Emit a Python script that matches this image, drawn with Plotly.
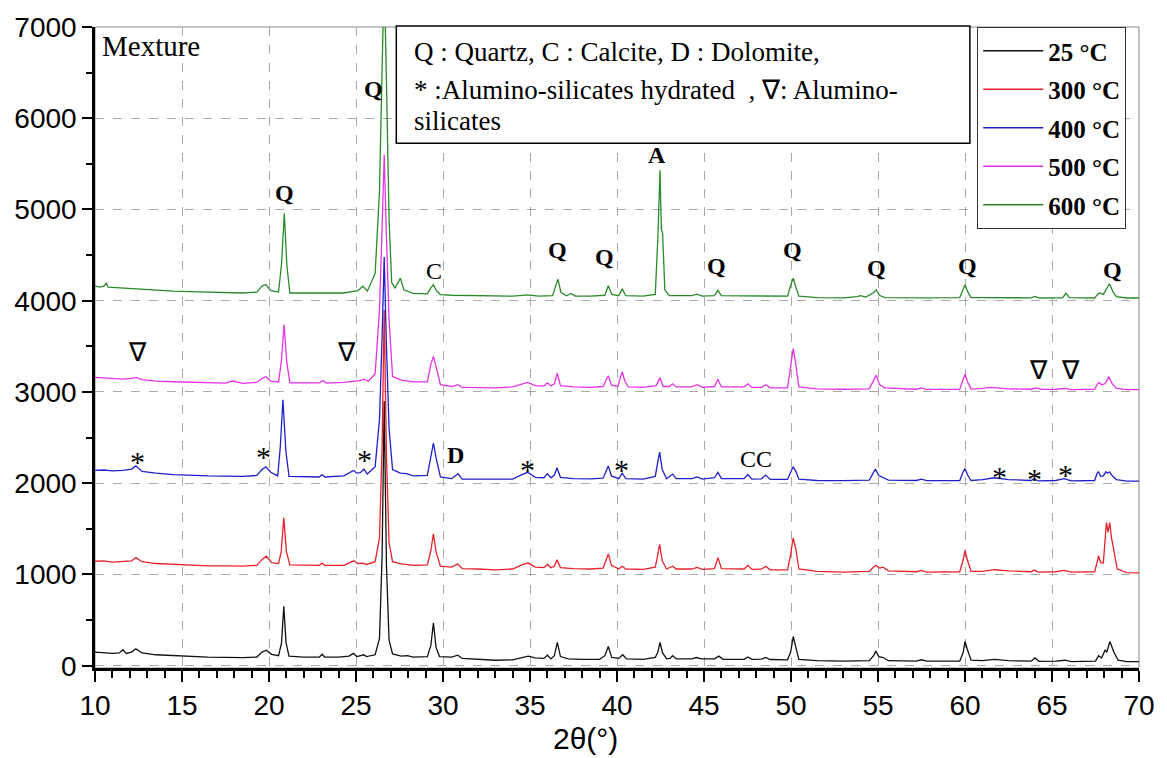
import plotly.graph_objects as go

# ---------------- data ----------------
series_names = ["25 °C", "300 °C", "400 °C", "500 °C", "600 °C"]
series_colors = ["#111111", "#e8222a", "#2020c8", "#e632e6", "#2a8a2a"]

pattern_25 = [(10.0,150),(10.5,140),(11.0,135),(11.4,140),(11.6,175),(11.8,135),(12.1,150),(12.35,185),(12.7,140),(13.5,120),(14.5,110),(15.5,100),(16.5,95),(17.5,92),(18.5,88),(19.3,95),(19.6,150),(19.85,170),(20.15,125),(20.55,110),(20.72,250),(20.85,650),(20.98,250),(21.15,105),(22.0,95),(22.9,95),(23.05,125),(23.2,95),(24.0,95),(24.6,105),(24.85,135),(25.05,100),(25.3,110),(25.45,120),(25.6,100),(26.1,120),(26.35,300),(26.5,1200),(26.62,2900),(26.75,1100),(26.9,280),(27.1,130),(27.6,105),(27.95,110),(28.3,95),(29.1,100),(29.3,220),(29.45,470),(29.6,200),(29.8,100),(30.5,95),(30.85,115),(31.1,80),(32.0,70),(33.0,60),(34.0,65),(34.6,95),(34.9,105),(35.3,85),(35.8,80),(36.0,115),(36.2,75),(36.4,110),(36.57,255),(36.75,100),(37.2,75),(38.0,70),(39.0,70),(39.3,110),(39.5,210),(39.7,90),(40.1,80),(40.33,120),(40.55,75),(41.5,70),(42.2,90),(42.35,150),(42.47,255),(42.62,140),(42.85,75),(43.05,80),(43.2,110),(43.4,75),(44.3,75),(44.57,90),(44.85,75),(45.6,75),(45.85,105),(46.1,70),(47.3,70),(47.52,95),(47.75,70),(48.3,72),(48.55,90),(48.8,68),(49.8,65),(49.98,150),(50.13,320),(50.28,200),(50.45,70),(51.5,55),(53.0,50),(54.5,55),(54.75,110),(54.87,160),(55.05,100),(55.3,90),(55.6,55),(57.2,50),(57.5,65),(57.8,50),(59.7,50),(59.9,150),(60.0,265),(60.15,170),(60.35,60),(61.0,55),(61.7,70),(62.5,55),(63.8,50),(64.02,85),(64.25,48),(65.2,50),(65.75,60),(66.1,45),(67.5,50),(67.68,110),(67.85,85),(68.05,170),(68.15,150),(68.33,265),(68.55,150),(68.8,60),(69.3,45),(70.0,45)]

pattern_300 = [(10.0,1145),(10.5,1150),(11.0,1135),(11.6,1140),(12.1,1150),(12.35,1185),(12.7,1140),(13.5,1120),(14.5,1110),(15.5,1100),(16.5,1095),(17.5,1095),(18.5,1092),(19.3,1100),(19.6,1165),(19.85,1200),(20.15,1130),(20.55,1120),(20.7,1250),(20.85,1620),(21.0,1250),(21.2,1105),(22.0,1100),(22.9,1100),(23.05,1125),(23.2,1100),(24.3,1100),(24.7,1130),(24.88,1150),(25.1,1120),(25.4,1125),(25.6,1110),(26.1,1140),(26.35,1400),(26.5,2400),(26.62,3900),(26.75,2300),(26.9,1350),(27.1,1140),(27.6,1115),(28.3,1100),(29.1,1105),(29.3,1260),(29.45,1445),(29.6,1250),(29.85,1090),(30.5,1080),(30.85,1115),(31.1,1065),(32.0,1060),(33.0,1050),(34.0,1060),(34.6,1110),(34.9,1125),(35.3,1080),(35.8,1075),(36.0,1110),(36.2,1075),(36.4,1090),(36.55,1160),(36.75,1075),(37.5,1065),(38.5,1060),(39.2,1070),(39.35,1140),(39.5,1225),(39.68,1100),(40.1,1060),(40.3,1090),(40.5,1060),(41.5,1055),(42.2,1080),(42.33,1200),(42.45,1330),(42.6,1150),(42.85,1060),(43.2,1090),(43.4,1060),(44.3,1060),(44.6,1078),(44.9,1055),(45.6,1065),(45.8,1185),(46.0,1065),(47.3,1060),(47.52,1100),(47.75,1055),(48.3,1058),(48.55,1090),(48.8,1052),(49.8,1050),(49.98,1220),(50.12,1400),(50.28,1280),(50.45,1060),(51.5,1035),(53.0,1025),(54.5,1035),(54.85,1100),(55.1,1070),(55.3,1080),(55.6,1040),(57.2,1030),(57.5,1045),(57.8,1025),(59.7,1030),(59.88,1150),(60.0,1260),(60.15,1150),(60.35,1035),(61.0,1035),(61.7,1052),(62.5,1040),(63.8,1030),(63.97,1048),(64.2,1025),(65.2,1030),(65.7,1045),(66.1,1025),(67.45,1030),(67.6,1140),(67.67,1205),(67.8,1130),(67.95,1125),(68.08,1450),(68.13,1570),(68.22,1460),(68.32,1570),(68.42,1400),(68.56,1250),(68.75,1060),(69.3,1020),(70.0,1018)]

pattern_400 = [(10.0,2140),(10.5,2145),(11.0,2135),(11.6,2140),(12.1,2155),(12.35,2190),(12.7,2130),(13.5,2110),(14.5,2095),(15.5,2085),(16.5,2080),(17.5,2078),(18.5,2075),(19.3,2085),(19.6,2150),(19.82,2180),(20.1,2120),(20.5,2080),(20.65,2400),(20.8,2915),(20.97,2350),(21.15,2075),(22.0,2070),(22.9,2068),(23.05,2095),(23.2,2068),(24.3,2080),(24.7,2125),(24.86,2140),(25.05,2110),(25.25,2115),(25.45,2155),(25.65,2100),(26.1,2180),(26.35,2700),(26.5,3600),(26.62,4480),(26.75,3500),(26.9,2600),(27.1,2150),(27.55,2110),(27.9,2105),(28.3,2080),(29.1,2085),(29.3,2300),(29.45,2440),(29.6,2280),(29.85,2070),(30.5,2050),(30.86,2105),(31.1,2045),(32.0,2045),(33.0,2040),(34.0,2045),(34.6,2100),(34.86,2120),(35.3,2065),(35.8,2060),(36.0,2105),(36.2,2060),(36.4,2090),(36.55,2170),(36.75,2065),(37.5,2050),(38.5,2048),(39.2,2055),(39.35,2120),(39.5,2190),(39.68,2080),(40.1,2050),(40.3,2110),(40.5,2050),(41.5,2045),(42.2,2075),(42.33,2220),(42.45,2340),(42.6,2150),(42.85,2050),(43.2,2100),(43.4,2050),(44.3,2050),(44.6,2070),(44.9,2045),(45.6,2060),(45.8,2120),(46.0,2050),(47.3,2050),(47.52,2095),(47.75,2045),(48.3,2048),(48.55,2090),(48.8,2042),(49.8,2042),(49.98,2120),(50.12,2180),(50.28,2130),(50.45,2045),(51.5,2030),(53.0,2028),(54.5,2035),(54.7,2100),(54.85,2155),(55.05,2085),(55.3,2060),(55.6,2035),(57.2,2030),(57.5,2045),(57.8,2028),(59.7,2030),(59.88,2120),(60.0,2160),(60.15,2090),(60.35,2030),(61.0,2040),(61.7,2060),(62.5,2040),(63.8,2030),(63.97,2050),(64.2,2025),(65.2,2030),(65.7,2050),(66.1,2025),(67.45,2030),(67.6,2110),(67.67,2125),(67.8,2075),(67.95,2080),(68.1,2125),(68.2,2110),(68.3,2125),(68.45,2085),(68.7,2040),(69.3,2022),(70.0,2022)]

pattern_500 = [(10.0,3160),(10.5,3155),(11.0,3145),(11.6,3140),(12.1,3150),(12.35,3160),(12.7,3135),(13.5,3120),(14.5,3112),(15.5,3105),(16.5,3100),(17.5,3098),(17.9,3120),(18.5,3095),(19.3,3105),(19.6,3150),(19.82,3168),(20.1,3120),(20.55,3110),(20.72,3350),(20.87,3740),(21.02,3330),(21.2,3100),(22.0,3100),(22.9,3100),(23.1,3125),(23.3,3098),(24.3,3105),(25.2,3125),(25.45,3140),(25.7,3115),(26.1,3200),(26.35,3900),(26.5,4800),(26.62,5600),(26.75,4700),(26.9,3800),(27.1,3170),(27.6,3130),(28.3,3110),(29.1,3110),(29.3,3300),(29.45,3390),(29.6,3280),(29.85,3080),(30.5,3060),(30.86,3080),(31.1,3050),(32.0,3050),(33.0,3045),(34.0,3055),(34.6,3095),(34.86,3105),(35.3,3070),(35.8,3065),(36.0,3100),(36.2,3065),(36.4,3090),(36.57,3205),(36.75,3070),(37.5,3055),(38.5,3050),(39.2,3060),(39.35,3120),(39.5,3177),(39.68,3075),(40.05,3060),(40.18,3150),(40.3,3220),(40.45,3120),(40.65,3055),(41.5,3050),(42.25,3070),(42.47,3155),(42.65,3060),(43.0,3060),(43.2,3090),(43.4,3055),(44.3,3055),(44.6,3080),(44.9,3050),(45.6,3060),(45.8,3140),(46.0,3055),(47.3,3055),(47.52,3090),(47.75,3050),(48.3,3050),(48.57,3080),(48.8,3045),(49.8,3045),(49.98,3280),(50.13,3475),(50.28,3300),(50.45,3055),(51.5,3035),(53.0,3030),(54.5,3035),(54.72,3120),(54.9,3185),(55.08,3080),(55.4,3045),(57.2,3030),(57.5,3045),(57.8,3028),(59.7,3030),(59.88,3130),(60.0,3195),(60.15,3110),(60.35,3032),(61.0,3040),(61.5,3050),(62.5,3035),(63.8,3030),(64.1,3045),(64.4,3028),(65.2,3030),(65.75,3040),(66.1,3025),(67.45,3030),(67.62,3090),(67.7,3105),(67.85,3080),(68.05,3090),(68.26,3168),(68.45,3095),(68.7,3040),(69.3,3025),(70.0,3025)]

pattern_600 = [(10.0,4160),(10.3,4150),(10.55,4165),(10.65,4195),(10.75,4150),(11.5,4140),(12.5,4130),(13.5,4115),(14.5,4105),(15.5,4100),(16.5,4095),(17.5,4090),(18.5,4085),(19.3,4095),(19.6,4160),(19.82,4178),(20.1,4110),(20.55,4095),(20.72,4400),(20.88,4956),(21.03,4380),(21.2,4085),(22.0,4085),(23.0,4082),(24.3,4085),(25.1,4110),(25.4,4160),(25.65,4105),(26.1,4300),(26.35,5200),(26.5,6600),(26.62,7600),(26.75,6400),(26.9,4900),(27.05,4200),(27.25,4140),(27.55,4248),(27.75,4120),(28.3,4080),(29.1,4075),(29.3,4140),(29.45,4175),(29.62,4110),(29.85,4068),(30.5,4060),(31.5,4055),(33.0,4050),(34.0,4050),(34.86,4065),(35.5,4050),(36.3,4055),(36.45,4150),(36.6,4237),(36.78,4090),(37.1,4055),(37.35,4080),(37.6,4050),(38.5,4050),(39.3,4060),(39.5,4165),(39.7,4070),(40.1,4055),(40.3,4130),(40.5,4055),(41.5,4050),(42.2,4070),(42.35,4700),(42.47,5430),(42.55,4780),(42.62,4740),(42.75,4120),(43.0,4055),(44.3,4055),(44.6,4072),(44.9,4050),(45.6,4055),(45.8,4114),(46.0,4055),(47.5,4050),(48.5,4050),(49.8,4050),(49.98,4170),(50.13,4248),(50.28,4150),(50.45,4050),(51.5,4035),(53.0,4032),(53.8,4045),(54.0,4055),(54.3,4040),(54.72,4085),(54.9,4120),(55.08,4060),(55.4,4035),(57.2,4030),(57.8,4032),(59.7,4035),(59.88,4130),(60.0,4175),(60.15,4100),(60.35,4035),(61.0,4035),(62.5,4035),(63.8,4032),(64.0,4048),(64.3,4030),(65.6,4032),(65.8,4082),(66.0,4035),(67.45,4030),(67.65,4075),(67.75,4085),(67.95,4070),(68.1,4120),(68.3,4186),(68.5,4100),(68.7,4045),(69.3,4030),(70.0,4030)]

patterns = [pattern_25, pattern_300, pattern_400, pattern_500, pattern_600]

# phase labels: (text, 2theta, intensity, bold)
phase_labels = [
    ("Q", 26.0, 6324, True), ("Q", 20.91, 5180, True), ("C", 29.49, 4330, False),
    ("A", 42.29, 5594, True), ("Q", 36.57, 4559, True), ("Q", 39.26, 4483, True),
    ("Q", 45.71, 4384, True), ("Q", 50.11, 4559, True), ("Q", 54.91, 4363, True),
    ("Q", 60.17, 4384, True), ("Q", 68.46, 4340, True),
    ("∇", 12.46, 3436, False), ("∇", 24.46, 3436, False),
    ("∇", 64.23, 3240, False), ("∇", 66.06, 3240, False),
    ("*", 12.46, 2240, False), ("*", 19.71, 2294, False), ("*", 25.49, 2261, False),
    ("D", 30.69, 2313, True), ("*", 34.86, 2152, False), ("*", 40.23, 2152, False),
    ("CC", 48.0, 2270, False), ("*", 62.0, 2076, False), ("*", 64.0, 2054, False),
    ("*", 65.77, 2098, False),
]

x_ticks = [10, 15, 20, 25, 30, 35, 40, 45, 50, 55, 60, 65, 70]
y_ticks = [0, 1000, 2000, 3000, 4000, 5000, 6000, 7000]

# ---------------- figure ----------------
SERIF = "Liberation Serif, Times New Roman, serif"
SANS = "Liberation Sans, Arial, sans-serif"

fig = go.Figure()
for name, color, pat in zip(series_names, series_colors, patterns):
    fig.add_trace(go.Scatter(
        x=[p[0] for p in pat], y=[p[1] for p in pat], mode="lines",
        name=name, legendgroup=name,
        line=dict(color=color, width=1.3),
    ))

for text, xv, yv, bold in phase_labels:
    size = {"*": 30, "∇": 26}.get(text, 24)
    fig.add_annotation(
        x=xv, y=yv, xref="x", yref="y", text=text, showarrow=False,
        font=dict(family=SERIF, size=size, color="black",
                  weight="bold" if bold else "normal"),
    )

fig.add_annotation(x=10.29, y=6793, xref="x", yref="y", text="Mexture",
                   showarrow=False, xanchor="left", yanchor="middle",
                   font=dict(family=SERIF, size=29, color="black"))

# key box
fig.add_shape(type="rect", xref="paper", yref="paper",
              x0=0.2886, x1=0.838, y0=0.8185, y1=1.0016,
              line=dict(color="black", width=1.5), fillcolor="white", layer="above")
key_lines = [("Q : Quartz, C : Calcite, D : Dolomite,", 48),
             ("* :Alumino-silicates hydrated  , ∇: Alumino-", 86),
             ("silicates", 118)]
for txt, py in key_lines:
    fig.add_annotation(x=0.3038, y=(667.5 - py) / 644.5, xref="paper", yref="paper",
                       text=txt, showarrow=False, xanchor="left", yanchor="middle",
                       font=dict(family=SERIF, size=27, color="black"))

# x title
fig.add_annotation(x=(588 - 95) / 1050, y=(667.5 - 738) / 644.5, xref="paper",
                   yref="paper", text="2θ(°)", showarrow=False,
                   xanchor="center", yanchor="middle",
                   font=dict(family=SANS, size=30, color="black"))

# grey top/right frame
fig.add_shape(type="rect", xref="paper", yref="paper", x0=0, x1=1, y0=0, y1=1,
              line=dict(color="#888888", width=1), layer="below")

fig.update_layout(
    width=1167, height=758,
    margin=dict(l=95, r=22, t=23, b=90),
    paper_bgcolor="white", plot_bgcolor="white",
    showlegend=True,
    legend=dict(x=0.845, y=1.0, xanchor="left", yanchor="top",
                bgcolor="white", bordercolor="#333333", borderwidth=1,
                font=dict(family=SERIF, size=25, color="black", weight="bold"),
                tracegroupgap=3, itemwidth=60),
    xaxis=dict(range=[10, 70], tickvals=x_ticks, ticks="outside", ticklen=11,
               tickwidth=2, tickcolor="black", showline=True, linecolor="black",
               linewidth=2.5, showgrid=True, gridcolor="#aaaaaa", griddash="dash",
               gridwidth=1, zeroline=False,
               tickfont=dict(family=SANS, size=28, color="black"),
               minor=dict(dtick=1, ticks="outside", ticklen=7, tickwidth=2,
                          tickcolor="black", showgrid=False)),
    yaxis=dict(range=[-25, 7000], tickvals=y_ticks, ticks="outside", ticklen=10,
               tickwidth=2, tickcolor="black", showline=True, linecolor="black",
               linewidth=2.5, showgrid=True, gridcolor="#aaaaaa", griddash="dash",
               gridwidth=1, zeroline=False,
               tickfont=dict(family=SANS, size=28, color="black"),
               minor=dict(dtick=500, tick0=0, ticks="outside", ticklen=6, tickwidth=2,
                          tickcolor="black", showgrid=False)),
)

fig.write_html("out.html")
